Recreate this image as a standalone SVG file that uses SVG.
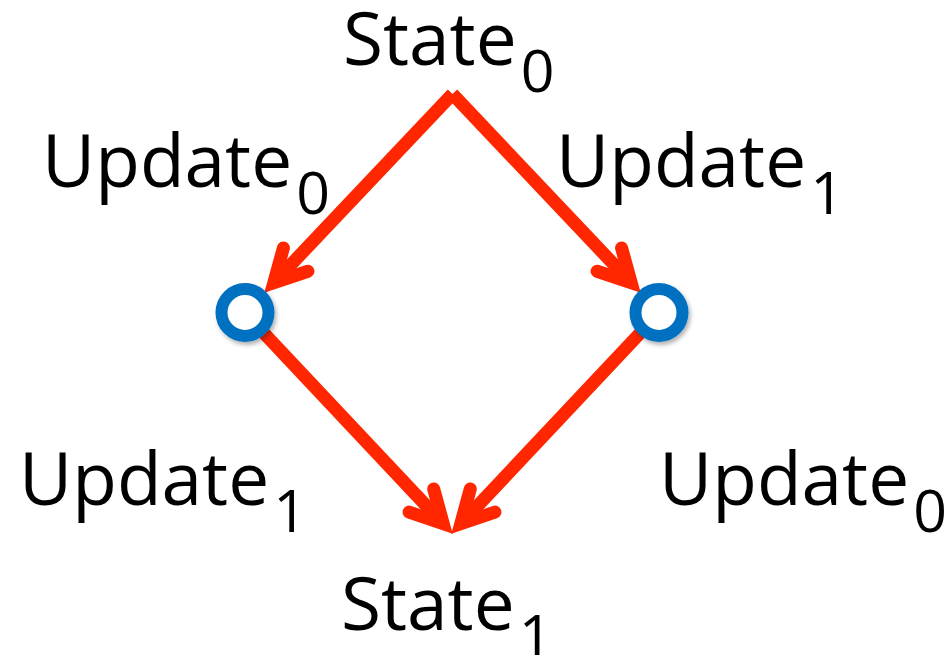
<svg xmlns="http://www.w3.org/2000/svg" width="951" height="655" viewBox="0 0 951 655">
  <style>
    .lbl { font-family: "Open Sans", "Liberation Sans", sans-serif; font-size: 73px; fill: #000; }
    .sub { font-size: 59px; }
    .edge { stroke: #FF2600; stroke-width: 13; fill: none; stroke-linecap: butt; }
    .ring { fill: #fff; stroke: #0070C0; stroke-width: 12; }
  </style>
  <defs>
    <marker id="arrow" markerUnits="userSpaceOnUse" orient="auto" refX="0" refY="0" markerWidth="10" markerHeight="10" overflow="visible">
      <path d="M -31.8,-16.9 L 0,0 L -31.8,16.9" fill="none" stroke="#FF2600" stroke-width="13" stroke-linecap="round" stroke-linejoin="miter" stroke-miterlimit="10"/>
    </marker>
    <filter id="shadow" x="-50%" y="-50%" width="200%" height="200%">
      <feDropShadow dx="2" dy="3" stdDeviation="2" flood-color="#000" flood-opacity="0.3"/>
    </filter>
  </defs>

  <g id="connectors">
    <line class="edge" x1="452.5" y1="94" x2="273.8" y2="282.7" marker-end="url(#arrow)"/>
    <line class="edge" x1="452.5" y1="94" x2="631.2" y2="282.7" marker-end="url(#arrow)"/>
    <line class="edge" x1="258.7" y1="327.6" x2="443.2" y2="523.7" marker-end="url(#arrow)"/>
    <line class="edge" x1="645.3" y1="327.6" x2="460.8" y2="523.7" marker-end="url(#arrow)"/>
  </g>

  <g id="node-left">
    <circle class="ring" cx="245" cy="312.5" r="23.5" filter="url(#shadow)"/>
  </g>
  <g id="node-right">
    <circle class="ring" cx="659" cy="312.5" r="23.5" filter="url(#shadow)"/>
  </g>

  <g id="state0">
    <text class="lbl" x="343" y="65">State<tspan class="sub" dx="4" dy="27">0</tspan></text>
  </g>
  <g id="state1">
    <text class="lbl" x="341" y="630">State<tspan class="sub" dx="4" dy="27">1</tspan></text>
  </g>
  <g id="label-update0-left">
    <text class="lbl" x="42" y="187">Update<tspan class="sub" dx="4" dy="27">0</tspan></text>
  </g>
  <g id="label-update1-right">
    <text class="lbl" x="556" y="187">Update<tspan class="sub" dx="4" dy="27">1</tspan></text>
  </g>
  <g id="label-update1-left">
    <text class="lbl" x="19" y="505">Update<tspan class="sub" dx="4" dy="27">1</tspan></text>
  </g>
  <g id="label-update0-right">
    <text class="lbl" x="659" y="505">Update<tspan class="sub" dx="4" dy="27">0</tspan></text>
  </g>
</svg>
